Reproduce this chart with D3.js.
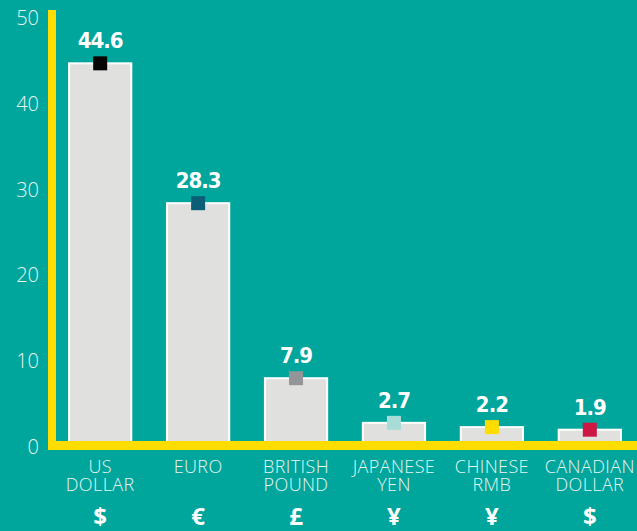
<!DOCTYPE html>
<html>
<head>
<meta charset="utf-8">
<script src="https://cdn.jsdelivr.net/npm/d3@7"></script>
<style>
  html, body { margin: 0; padding: 0; background: #00a59c; }
  svg { display: block; }
  .tick text { font-family: 'Open Sans', 'Liberation Sans', sans-serif; font-weight: 300; }
</style>
</head>
<body>
<svg id="chart"></svg>
<script>
const width = 637
const height = 531

const currencies = [['US', 'DOLLAR'], ['EURO'], ['BRITISH', 'POUND'], ['JAPANESE', 'YEN'], ['CHINESE', 'RMB'], ['CANADIAN', 'DOLLAR']]
const shares = [44.6, 28.3, 7.9, 2.7, 2.2, 1.9]
const symbols = ['$', '€', '£', '¥', '¥', '$']
const markerColors = ['#050505', '#0b5e78', '#939598', '#a8ddd7', '#ffdd00', '#cc1745']
const yTicks = [0, 10, 20, 30, 40, 50]

const keys = currencies.map((d) => d.join(' '))

const svg = d3.select('#chart').attr('width', width).attr('height', height)

const x = d3.scaleBand().domain(keys).range([52, 638]).paddingInner(0.344).paddingOuter(0.164)
const y = d3.scaleLinear().domain([0, 50]).range([445, 16])

// y axis labels
const yAxis = d3.axisLeft(y).tickValues(yTicks).tickSize(0).tickPadding(0)
svg
  .append('g')
  .attr('transform', 'translate(39,2)')
  .call(yAxis)
  .call((g) => g.select('.domain').remove())
  .selectAll('text')
  .attr('fill', '#e8f6f4')
  .style('font-size', '20px')

// bars
svg
  .append('g')
  .selectAll('rect')
  .data(shares)
  .join('rect')
  .attr('x', (d, i) => x(keys[i]) + 1)
  .attr('y', (d) => y(d) + 1)
  .attr('width', x.bandwidth() - 2)
  .attr('height', (d) => y(0) - y(d))
  .attr('fill', '#e0e0de')
  .attr('stroke', '#ffffff')
  .attr('stroke-width', 2)

// yellow axis lines
svg.append('rect').attr('x', 48).attr('y', 10).attr('width', 8).attr('height', 440).attr('fill', '#ffdd00')
svg.append('rect').attr('x', 48).attr('y', 441).attr('width', width - 48).attr('height', 9).attr('fill', '#ffdd00')

// markers
const m = 14
svg
  .append('g')
  .selectAll('rect')
  .data(shares)
  .join('rect')
  .attr('x', (d, i) => x(keys[i]) + x.bandwidth() / 2 - m / 2)
  .attr('y', (d) => y(d) - m / 2 + 1)
  .attr('width', m)
  .attr('height', m)
  .attr('fill', (d, i) => markerColors[i])

// value labels
svg
  .append('g')
  .selectAll('text')
  .data(shares)
  .join('text')
  .attr('x', (d, i) => x(keys[i]) + x.bandwidth() / 2)
  .attr('y', (d) => y(d) - 14)
  .attr('text-anchor', 'middle')
  .attr('fill', '#ffffff')
  .style('font-family', "'DejaVu Sans Condensed', 'DejaVu Sans', sans-serif")
  .style('font-weight', 'bold')
  .style('font-size', '22px')
  .style('letter-spacing', '-1px')
  .text((d) => d.toFixed(1))

// category labels
const cat = svg
  .append('g')
  .selectAll('text')
  .data(currencies)
  .join('text')
  .attr('x', (d, i) => x(keys[i]) + x.bandwidth() / 2)
  .attr('y', 473)
  .attr('text-anchor', 'middle')
  .attr('fill', '#e8f6f4')
  .style('font-family', "'Open Sans', 'Liberation Sans', sans-serif")
  .style('font-weight', 300)
  .style('font-size', '18px')
  .style('letter-spacing', '0.4px')

cat
  .selectAll('tspan')
  .data((d) => d)
  .join('tspan')
  .attr('x', function () {
    return d3.select(this.parentNode).attr('x')
  })
  .attr('dy', (d, i) => (i ? 18 : 0))
  .text((d) => d)

// currency symbols
svg
  .append('g')
  .selectAll('text')
  .data(symbols)
  .join('text')
  .attr('x', (d, i) => x(keys[i]) + x.bandwidth() / 2)
  .attr('y', 525)
  .attr('text-anchor', 'middle')
  .attr('fill', '#ffffff')
  .style('font-family', "'Open Sans', 'Liberation Sans', sans-serif")
  .style('font-weight', 'bold')
  .style('font-size', '24px')
  .text((d) => d)
</script>
</body>
</html>
